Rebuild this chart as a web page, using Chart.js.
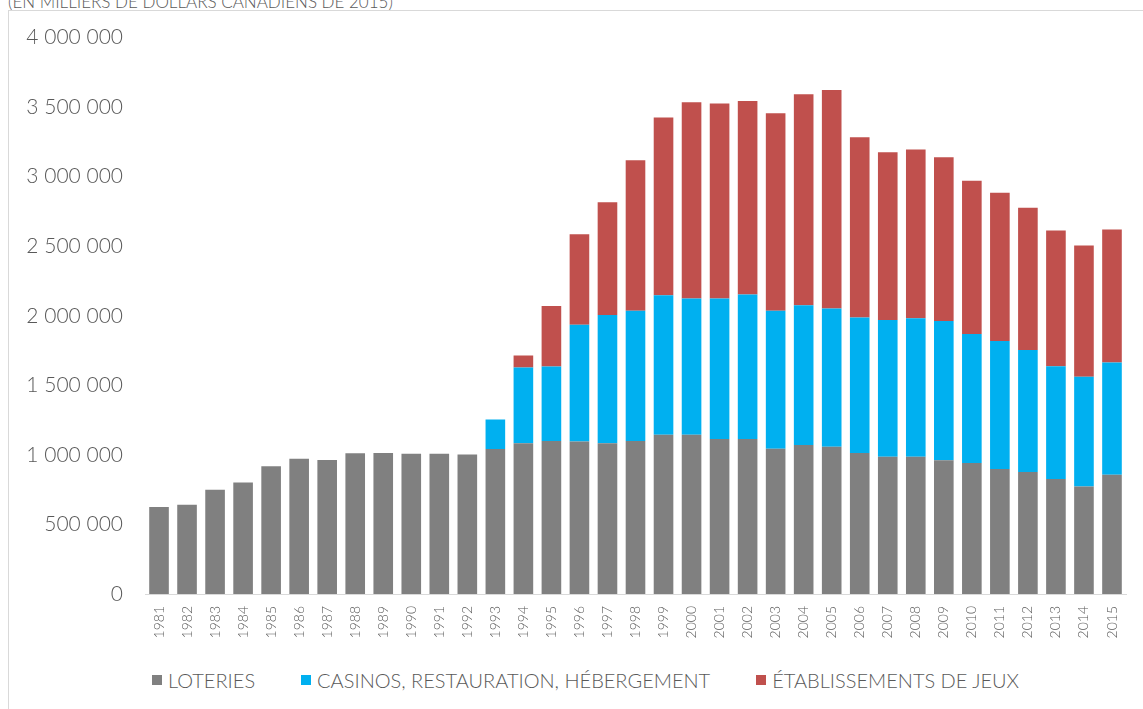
<!DOCTYPE html>
<html lang="fr">
<head>
<meta charset="utf-8">
<title>Revenus des jeux de hasard</title>
<script src="https://cdn.jsdelivr.net/npm/chart.js@4.4.1/dist/chart.umd.min.js"></script>
<style>
    html, body { margin: 0; padding: 0; background: #fff; overflow: hidden; }
    body { width: 1143px; height: 709px; position: relative; font-family: Lato, "Open Sans", sans-serif; font-weight: 300; color: #595959; }
    #title { position: absolute; left: 8px; top: -7px; font-size: 17px; line-height: 17px; white-space: nowrap; }
    #frame { position: absolute; left: 8px; top: 10px; width: 1135px; height: 699px; border-left: 1px solid #d9d9d9; border-top: 1px solid #d9d9d9; }
    #chart-wrap { position: absolute; left: 9px; top: 11px; width: 1134px; height: 630px; }
    #legend { position: absolute; left: 152px; top: 669px; display: flex; gap: 46px; font-size: 20px; line-height: 22px; }
    #legend .item { display: flex; align-items: center; white-space: nowrap; }
    #legend .box { width: 10px; height: 10px; margin-right: 6px; }
</style>
</head>
<body>
<div id="title">(EN MILLIERS DE DOLLARS CANADIENS DE 2015)</div>
<div id="frame"></div>
<div id="chart-wrap"><canvas id="chart"></canvas></div>
<div id="legend"></div>

<script>
    const years = ['1981', '1982', '1983', '1984', '1985', '1986', '1987', '1988', '1989', '1990',
        '1991', '1992', '1993', '1994', '1995', '1996', '1997', '1998', '1999', '2000',
        '2001', '2002', '2003', '2004', '2005', '2006', '2007', '2008', '2009', '2010',
        '2011', '2012', '2013', '2014', '2015'];

    // en milliers de dollars canadiens de 2015
    const loteries = [625000, 641000, 750000, 802000, 918000, 973000, 963000, 1011000, 1014000, 1009000,
        1009000, 1002000, 1043000, 1083000, 1100000, 1097000, 1083000, 1100000, 1144000, 1144000,
        1114000, 1114000, 1044000, 1071000, 1058000, 1014000, 986000, 986000, 962000, 941000,
        899000, 877000, 827000, 773000, 858000];

    const casinos = [0, 0, 0, 0, 0, 0, 0, 0, 0, 0,
        0, 0, 211000, 546000, 536000, 839000, 923000, 937000, 1004000, 980000,
        1010000, 1039000, 993000, 1004000, 994000, 973000, 984000, 996000, 1001000, 928000,
        919000, 877000, 811000, 789000, 807000];

    const etablissements = [0, 0, 0, 0, 0, 0, 0, 0, 0, 0,
        0, 0, 0, 86000, 435000, 651000, 810000, 1081000, 1278000, 1412000,
        1403000, 1391000, 1420000, 1517000, 1571000, 1297000, 1206000, 1213000, 1177000, 1102000,
        1067000, 1023000, 976000, 944000, 956000];

    const yTicks = [0, 500000, 1000000, 1500000, 2000000, 2500000, 3000000, 3500000, 4000000];

    const seriesNames = ['LOTERIES', 'CASINOS, RESTAURATION, HÉBERGEMENT', 'ÉTABLISSEMENTS DE JEUX'];
    const seriesColors = ['#808080', '#00b0f0', '#c0504d'];

    const textColor = '#595959';
    const fontFamily = 'Lato, "Open Sans", sans-serif';

    // 1 000 000 -> "1 000 000"
    function formatSpace(v) {
        return String(v).replace(/\B(?=(\d{3})+(?!\d))/g, ' ');
    }

    const datasets = [loteries, casinos, etablissements].map((data, i) => ({
        label: seriesNames[i],
        data,
        backgroundColor: seriesColors[i],
        borderWidth: 0,
        barPercentage: 0.7,
        categoryPercentage: 1
    }));

    new Chart(document.getElementById('chart'), {
        type: 'bar',
        data: { labels: years, datasets },
        options: {
            responsive: true,
            maintainAspectRatio: false,
            animation: false,
            layout: { padding: { top: 22, right: 17, left: 0, bottom: 0 } },
            plugins: {
                legend: { display: false },
                tooltip: { enabled: false }
            },
            scales: {
                x: {
                    stacked: true,
                    grid: { display: false },
                    border: { display: true, color: '#d9d9d9', width: 1 },
                    ticks: {
                        minRotation: 90,
                        maxRotation: 90,
                        autoSkip: false,
                        padding: 4,
                        color: textColor,
                        font: { family: fontFamily, size: 14, weight: '300' }
                    },
                    afterFit: scale => { scale.height = 47; }
                },
                y: {
                    stacked: true,
                    min: 0,
                    max: 4000000,
                    grid: { display: false },
                    border: { display: false },
                    afterBuildTicks: scale => { scale.ticks = yTicks.map(v => ({ value: v })); },
                    ticks: {
                        padding: 14,
                        color: textColor,
                        font: { family: fontFamily, size: 21, weight: '300' },
                        callback: v => formatSpace(v)
                    },
                    afterFit: scale => { scale.width = 136; }
                }
            }
        }
    });

    // legend below the chart
    const legend = document.getElementById('legend');
    seriesNames.forEach((name, i) => {
        const item = document.createElement('div');
        item.className = 'item';
        const box = document.createElement('span');
        box.className = 'box';
        box.style.background = seriesColors[i];
        const txt = document.createElement('span');
        txt.textContent = name;
        item.appendChild(box);
        item.appendChild(txt);
        legend.appendChild(item);
    });
</script>
</body>
</html>
